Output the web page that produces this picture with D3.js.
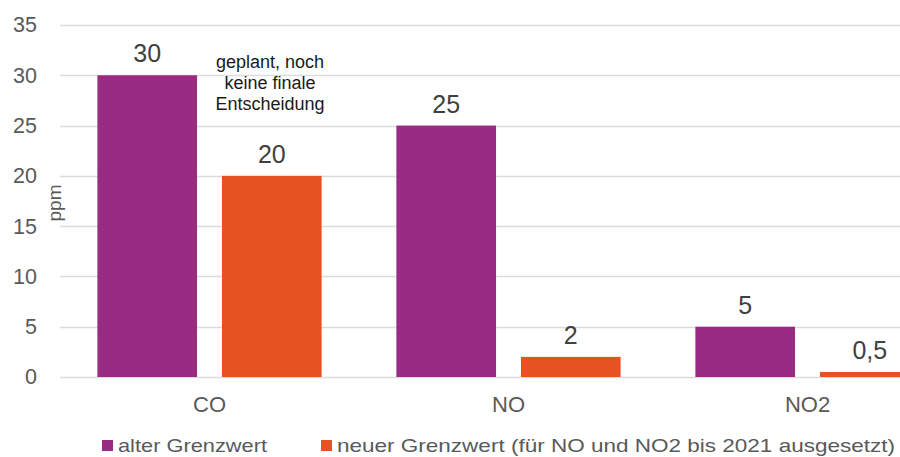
<!DOCTYPE html>
<html>
<head>
<meta charset="utf-8">
<script src="https://cdn.jsdelivr.net/npm/d3@7"></script>
<style>
  body { margin: 0; background: #fff; }
  svg { display: block; font-family: "Liberation Sans", Arial, sans-serif; }
</style>
</head>
<body>
<svg id="chart"></svg>
<script>
// data
const categories = ["CO", "NO", "NO2"];
const seriesNames = ["alter Grenzwert", "neuer Grenzwert (für NO und NO2 bis 2021 ausgesetzt)"];
const alterValues = [30, 25, 5];
const neuerValues = [20, 2, 0.5];
const yTicks = [0, 5, 10, 15, 20, 25, 30, 35];
const colors = ["#992b82", "#e75223"];

const W = 900, H = 457;
// plot runs past the right edge (reference is cropped)
const margin = {top: 25, left: 60, bottom: 80},
      plotRight = 957;

const svg = d3.select("#chart").attr("width", W).attr("height", H);

const x = d3.scaleBand().domain(categories).range([margin.left, plotRight]);
const xs = d3.scaleBand().domain([0, 1]).range([0, x.bandwidth()])
  .paddingInner(0.2).paddingOuter(0.3);
const y = d3.scaleLinear().domain([0, 35]).range([H - margin.bottom, margin.top]);

// gridlines
svg.append("g")
  .selectAll("line")
  .data(yTicks)
  .enter().append("line")
    .attr("x1", margin.left).attr("x2", plotRight)
    .attr("y1", d => Math.round(y(d)) + 0.5)
    .attr("y2", d => Math.round(y(d)) + 0.5)
    .attr("stroke", "#dcdcdc").attr("stroke-width", 1.5);

// y axis labels
const yAxis = svg.append("g")
  .attr("transform", "translate(37,0)")
  .call(d3.axisLeft(y).tickValues(yTicks).tickSize(0).tickPadding(0));
yAxis.select(".domain").remove();
yAxis.selectAll("text")
  .attr("font-size", 21.5).attr("fill", "#595959")
  .style("font-family", "Liberation Sans, Arial, sans-serif");

svg.append("text")
  .attr("transform", "translate(61," + y(17.3) + ") rotate(-90)")
  .attr("text-anchor", "middle")
  .attr("font-size", 19).attr("fill", "#595959")
  .text("ppm");

// x axis labels
const xAxis = svg.append("g")
  .attr("transform", "translate(0," + (y(0) + 19) + ")")
  .call(d3.axisBottom(x).tickSize(0).tickPadding(0));
xAxis.select(".domain").remove();
xAxis.selectAll("text")
  .attr("font-size", 22).attr("fill", "#595959")
  .style("font-family", "Liberation Sans, Arial, sans-serif");

// bars
const seriesData = [alterValues, neuerValues];
seriesData.forEach((vals, si) => {
  const g = svg.append("g");
  g.selectAll("rect")
    .data(vals)
    .enter().append("rect")
      .attr("x", (d, i) => x(categories[i]) + xs(si))
      .attr("y", d => y(d))
      .attr("width", xs.bandwidth())
      .attr("height", d => y(0) - y(d))
      .attr("fill", colors[si]);
  g.selectAll("text")
    .data(vals)
    .enter().append("text")
      .attr("x", (d, i) => x(categories[i]) + xs(si) + xs.bandwidth() / 2)
      .attr("y", d => y(d) - 13)
      .attr("text-anchor", "middle")
      .attr("font-size", 25).attr("fill", "#404040")
      .text(d => String(d).replace(".", ","));
});

// annotation
const note = ["geplant, noch", "keine finale", "Entscheidung"];
svg.append("g")
  .selectAll("text")
  .data(note)
  .enter().append("text")
    .attr("x", 270)
    .attr("y", (d, i) => 68 + i * 21)
    .attr("text-anchor", "middle")
    .attr("font-size", 18).attr("fill", "#1a1a1a")
    .text(d => d);

// legend
const legendX = [102, 321];
const legendLen = [149, 558];
const legend = svg.append("g");
seriesNames.forEach((name, i) => {
  legend.append("rect")
    .attr("x", legendX[i]).attr("y", 440)
    .attr("width", 11).attr("height", 11)
    .attr("fill", colors[i]);
  legend.append("text")
    .attr("x", legendX[i] + 16).attr("y", 452)
    .attr("font-size", 19).attr("fill", "#595959")
    .attr("textLength", legendLen[i])
    .attr("lengthAdjust", "spacingAndGlyphs")
    .text(name);
});
</script>
</body>
</html>
